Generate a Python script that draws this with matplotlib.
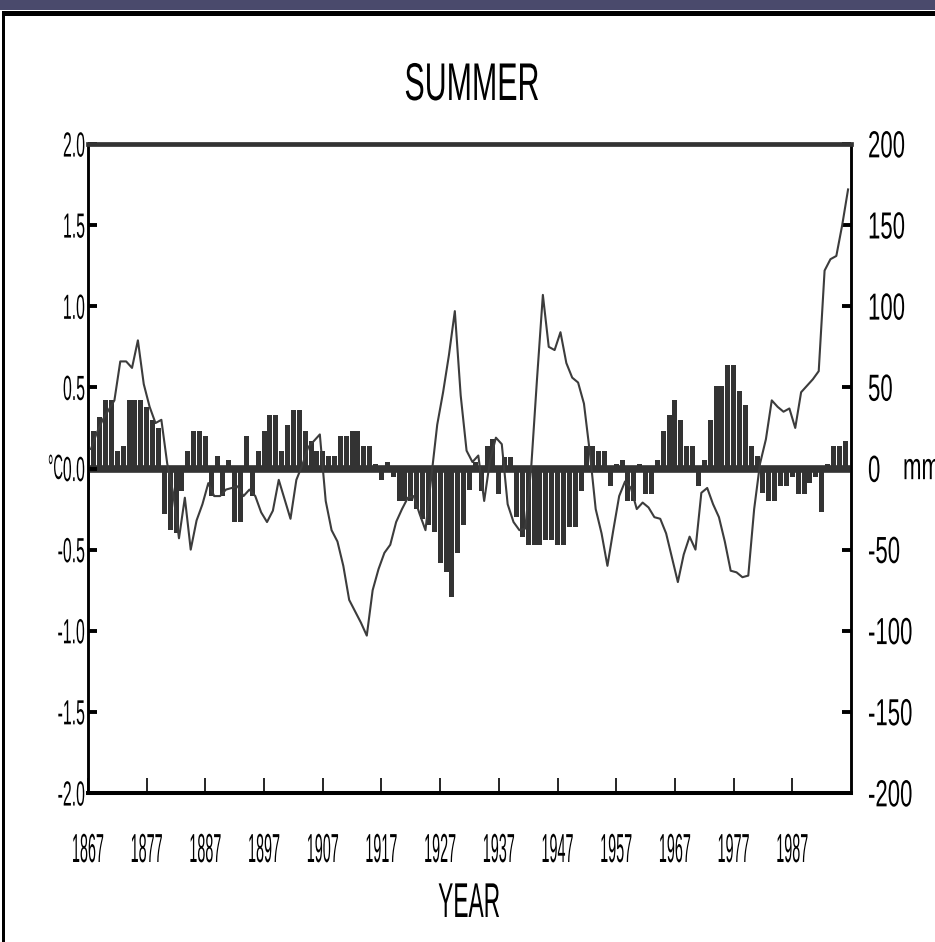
import matplotlib
matplotlib.use("Agg")
import matplotlib.pyplot as plt
from matplotlib.patheffects import AbstractPathEffect
from matplotlib.transforms import Affine2D
from matplotlib.patches import Rectangle
import numpy as np

# ---- data -------------------------------------------------------------
years = list(range(1867, 1997))

# summer precipitation anomaly (mm), right axis
rain_mm = [
    -13, 23, 32, 42, 42, 11, 14, 42, 42, 42,
    38, 30, 25, -28, -38, -40, -14, 11, 23, 23,
    20, -17, 8, -17, 5, -33, -33, 20, -17, 11,
    23, 33, 33, 11, 27, 36, 36, 23, 17, 11,
    11, 8, 8, 20, 20, 23, 23, 14, 14, 3,
    -7, 4, -5, -20, -20, -20, -25, -31, -35, -39,
    -58, -64, -79, -52, -35, -13, 4, -14, 14, 18,
    -16, 7, 7, -30, -42, -47, -47, -47, -44, -44,
    -47, -47, -36, -36, -14, 14, 14, 11, 11, -11,
    3, 5, -20, -20, 3, -16, -16, 5, 23, 33,
    42, 30, 14, 14, -11, 5, 30, 51, 51, 64,
    64, 48, 39, 14, 8, -15, -20, -20, -11, -11,
    -5, -16, -16, -9, -5, -27, 3, 14, 14, 17,
]

# summer temperature anomaly (deg C), left axis
temp_c = [
    0.12, 0.22, 0.30, 0.36, 0.42, 0.66, 0.66, 0.62, 0.79, 0.52,
    0.38, 0.28, 0.30, 0.03, -0.15, -0.43, -0.18, -0.50, -0.32, -0.22,
    -0.09, -0.17, -0.17, -0.13, -0.12, -0.11, -0.17, -0.13, -0.17, -0.27,
    -0.33, -0.26, -0.07, -0.19, -0.31, -0.07, 0.02, 0.13, 0.17, 0.21,
    -0.20, -0.38, -0.45, -0.60, -0.81, -0.88, -0.95, -1.03, -0.75, -0.62,
    -0.52, -0.47, -0.33, -0.25, -0.18, -0.17, -0.28, -0.38, -0.05, 0.27,
    0.47, 0.70, 0.97, 0.45, 0.11, 0.04, 0.08, -0.20, 0.05, 0.19,
    0.15, -0.22, -0.33, -0.38, -0.37, 0.00, 0.55, 1.07, 0.75, 0.73,
    0.84, 0.65, 0.56, 0.53, 0.40, 0.10, -0.25, -0.40, -0.60, -0.38,
    -0.17, -0.08, -0.12, -0.25, -0.21, -0.24, -0.30, -0.31, -0.40, -0.55,
    -0.70, -0.53, -0.42, -0.50, -0.15, -0.12, -0.22, -0.30, -0.45, -0.63,
    -0.64, -0.67, -0.66, -0.25, 0.03, 0.18, 0.42, 0.38, 0.35, 0.37,
    0.25, 0.47, 0.51, 0.55, 0.60, 1.22, 1.29, 1.31, 1.50, 1.72,
]

temp_ticks = [-2.0, -1.5, -1.0, -0.5, 0.0, 0.5, 1.0, 1.5, 2.0]
rain_ticks = [-200, -150, -100, -50, 0, 50, 100, 150, 200]
year_ticks = list(range(1867, 1997, 10))

title = "SUMMER"
xlabel = "YEAR"

FONT = ["Liberation Sans", "DejaVu Sans"]
PX = 72 / 100  # points per pixel at 100 dpi


class Tall(AbstractPathEffect):
    """Draw glyphs stretched vertically (tall, narrow lettering)."""

    def __init__(self, sy, pivot="center"):
        super().__init__()
        self.sy = sy
        self.pivot = pivot

    def draw_path(self, renderer, gc, tpath, affine, rgbFace=None):
        if self.pivot == "center":
            ext = tpath.get_extents()
            py = 0.5 * (ext.y0 + ext.y1)
        else:
            py = 0.0
        t = Affine2D().translate(0, -py).scale(1.0, self.sy).translate(0, py) + affine
        renderer.draw_path(gc, tpath, t, rgbFace)


def em_for(width_px, em_width):
    """font size (pt) whose text of em_width ems spans width_px pixels"""
    return width_px / em_width * PX


def tall_for(height_px, size_pt):
    """vertical stretch giving digits/capitals of the wanted pixel height"""
    return height_px / (0.716 * size_pt / PX)


DARK = "#333333"

fig = plt.figure(figsize=(9.35, 9.42), dpi=100)
fig.patch.set_facecolor("white")

# slide frame
fig.add_artist(Rectangle((0, 1 - 10 / 942), 1, 10 / 942, transform=fig.transFigure,
                         facecolor="#4a4a6c", edgecolor="none"))
fig.add_artist(Rectangle((2 / 935, 1 - 15.5 / 942), 1, 4.5 / 942, transform=fig.transFigure,
                         facecolor="black", edgecolor="none"))
fig.add_artist(Rectangle((2 / 935, 0), 2.5 / 935, 1 - 11 / 942, transform=fig.transFigure,
                         facecolor="black", edgecolor="none"))

L, R, T, B = 88, 851, 144, 793
ax = fig.add_axes([L / 935, 1 - B / 942, (R - L) / 935, (B - T) / 942])
ax2 = ax.twinx()

ax.set_xlim(1867, 1997)
ax.set_ylim(-2, 2)
ax2.set_ylim(-200, 200)

# bars on the precipitation scale, line on the temperature scale
ax2.bar(years, rain_mm, width=0.85, color=DARK, edgecolor="none", zorder=2)
ax.plot(np.array(years) + 0.5, temp_c, color="#3c3c3c", lw=1.5, zorder=3)
ax.axhline(0, color=DARK, lw=5.5, zorder=1)

ax.set_zorder(ax2.get_zorder() + 1)
ax.patch.set_visible(False)

for a in (ax, ax2):
    for s in a.spines.values():
        s.set_color("black")
        s.set_linewidth(1.8)
ax.spines["top"].set_color(DARK)
ax.spines["top"].set_linewidth(3.4)
ax.spines["bottom"].set_linewidth(2.9)
ax2.spines["top"].set_visible(False)
ax2.spines["bottom"].set_visible(False)

ax.set_xticks(year_ticks, [str(y) for y in year_ticks])
ax.set_yticks(temp_ticks, [f"{v:.1f}" for v in temp_ticks])
ax2.set_yticks(rain_ticks, [str(v) for v in rain_ticks])

xs = em_for(32, 4 * 0.556)      # "1867" about 32 px wide
ls_ = em_for(22, 1.39)          # "1.5" about 22 px wide
rs = em_for(37, 3 * 0.556)      # "200" about 37 px wide
ax.tick_params(axis="x", direction="in", length=11, width=1.2, color="black",
               pad=69 * PX, labelsize=xs)
ax.tick_params(axis="y", direction="in", length=6.5, width=2.8, color="black",
               pad=3 * PX, labelsize=ls_)
ax2.tick_params(axis="y", direction="in", length=6.5, width=2.8, color="black",
                pad=17 * PX, labelsize=rs)

fig.canvas.draw()
for t in ax.xaxis.get_major_ticks():
    t.label1.set_fontfamily(FONT)
    t.label1.set_verticalalignment("baseline")
    t.label1.set_path_effects([Tall(tall_for(29, xs), "base")])
for t in ax.yaxis.get_major_ticks():
    t.label1.set_fontfamily(FONT)
    t.label1.set_path_effects([Tall(tall_for(25, ls_), "center")])
for t in ax2.yaxis.get_major_ticks():
    t.label2.set_fontfamily(FONT)
    t.label2.set_path_effects([Tall(tall_for(27, rs), "center")])

ts = em_for(135, 4.444)
fig.text(472 / 935, 1 - 100 / 942, title, ha="center", va="baseline", fontsize=ts,
         family=FONT, path_effects=[Tall(tall_for(38, ts), "base")])
xl = em_for(62, 2.723)
fig.text(469 / 935, 1 - 917 / 942, xlabel, ha="center", va="baseline", fontsize=xl,
         family=FONT, path_effects=[Tall(tall_for(35, xl), "base")])
cs = em_for(15, 1.122)
fig.text(48 / 935, 1 - 467 / 942, "°C", ha="left", va="center_baseline", fontsize=cs,
         family=FONT, path_effects=[Tall(tall_for(25, cs), "center")])
fig.text(903 / 935, 1 - 467 / 942, "mm", ha="left", va="center_baseline", fontsize=rs,
         family=FONT, path_effects=[Tall(tall_for(27, rs), "center")])

fig.savefig("out.png", dpi=100, facecolor="white")
